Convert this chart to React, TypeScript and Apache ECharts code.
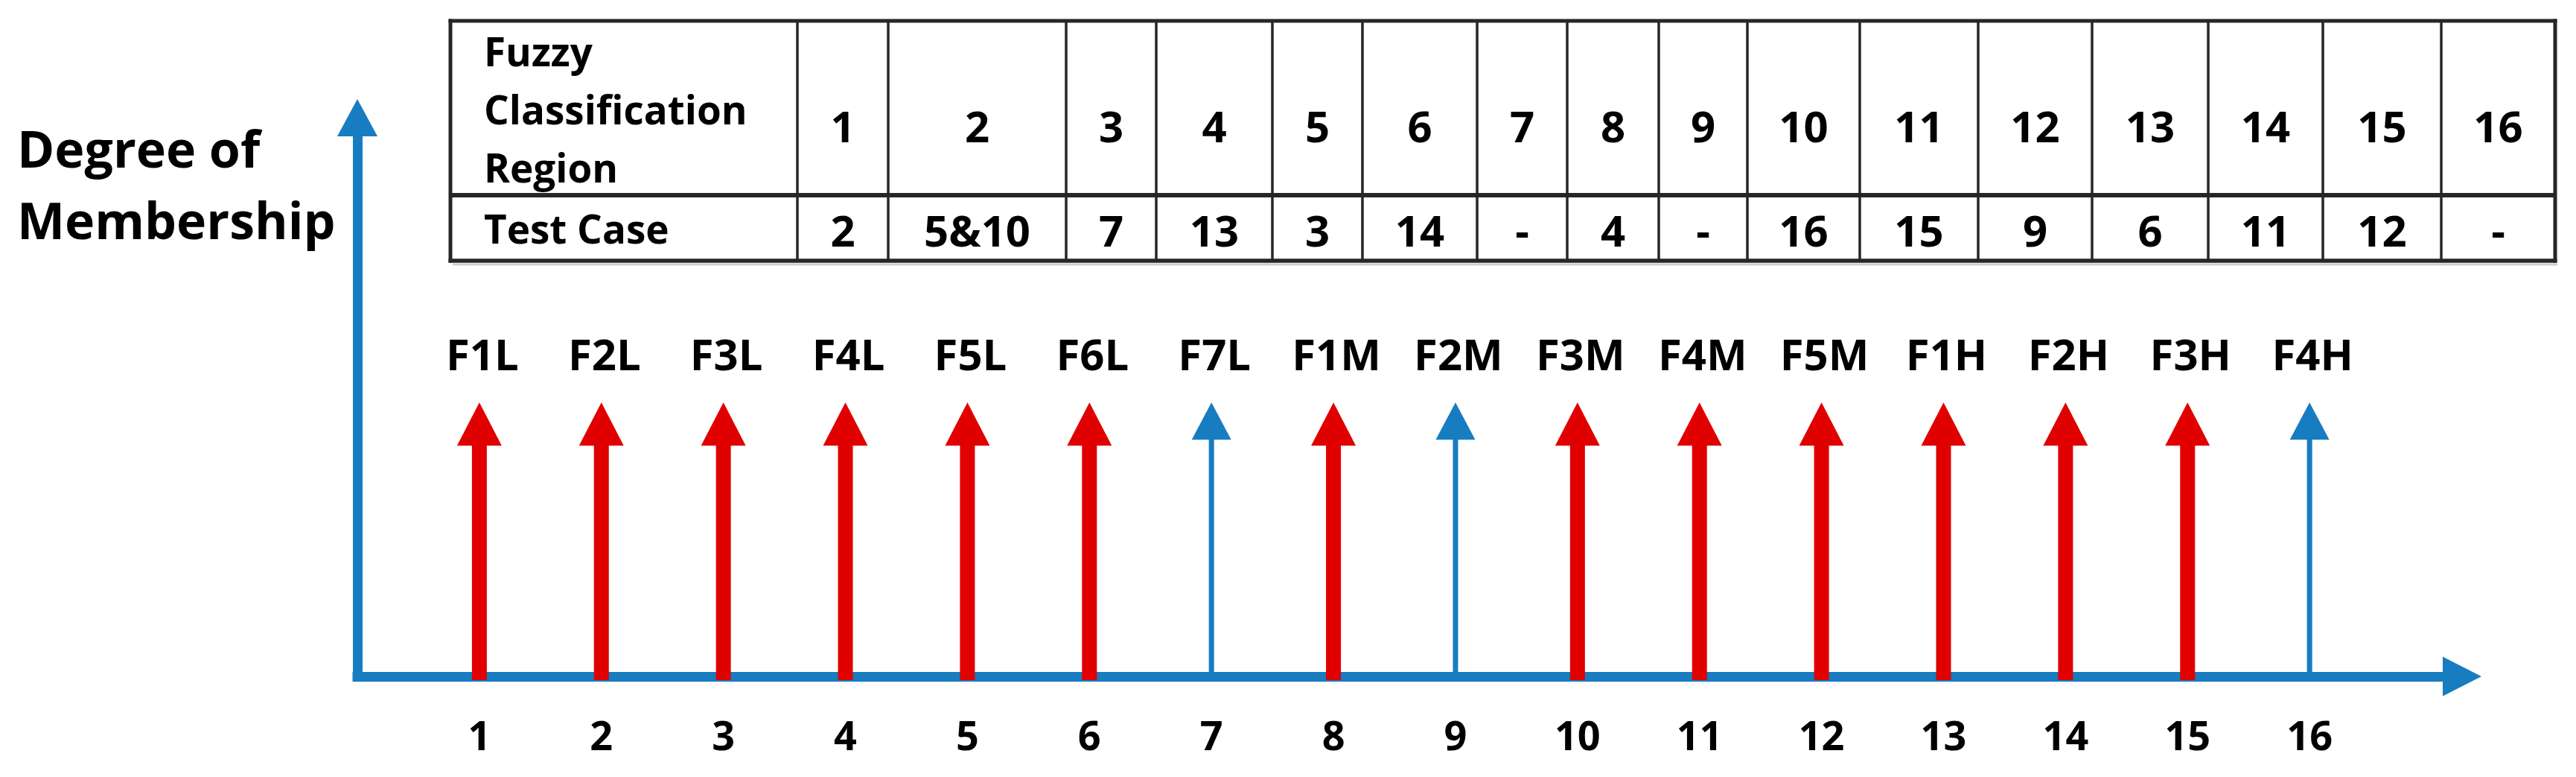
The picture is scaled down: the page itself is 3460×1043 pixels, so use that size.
import React, { useEffect, useRef } from "react";
import * as echarts from "echarts";

// ---------- data ----------
const regions: number[] = [1, 2, 3, 4, 5, 6, 7, 8, 9, 10, 11, 12, 13, 14, 15, 16];
const regionNames: string[] = [
  "F1L", "F2L", "F3L", "F4L", "F5L", "F6L", "F7L",
  "F1M", "F2M", "F3M", "F4M", "F5M",
  "F1H", "F2H", "F3H", "F4H",
];
const membership: number[] = [1, 1, 1, 1, 1, 1, 1, 1, 1, 1, 1, 1, 1, 1, 1, 1];
const testCases: string[] = ["2", "5&10", "7", "13", "3", "14", "-", "4", "-", "16", "15", "9", "6", "11", "12", "-"];
const tableRowHeaders: string[] = ["Fuzzy\nClassification\nRegion", "Test Case"];
const yAxisTitle = "Degree of\nMembership";

// ---------- layout / style ----------
const W = 3460;
const H = 1043;
const FONT = "'Open Sans', 'DejaVu Sans', sans-serif";
const RED = "#E00000";
const BLUE = "#187CC0";
const LINE = "#262626";
// table column edges (px)
const colEdges = [605, 1071, 1193, 1432, 1553, 1709, 1830, 1984, 2105, 2228, 2347, 2498, 2657, 2810, 2966, 3120, 3279, 3432];
const tableTop = 28;
const tableMid = 262;
const tableBottom = 350;

function buildTableGraphics(): any[] {
  const els: any[] = [];
  const left = colEdges[0];
  const right = colEdges[colEdges.length - 1];
  // shadow under table
  els.push({ type: "line", shape: { x1: left + 3, y1: tableBottom + 5, x2: right + 3, y2: tableBottom + 5 }, style: { stroke: "#cfcfcf", lineWidth: 3 } });
  // inner verticals
  for (let i = 1; i < colEdges.length - 1; i++) {
    els.push({ type: "line", shape: { x1: colEdges[i], y1: tableTop, x2: colEdges[i], y2: tableBottom }, style: { stroke: LINE, lineWidth: 3.5 } });
  }
  // outer borders
  els.push({ type: "line", shape: { x1: left, y1: tableTop - 2.5, x2: left, y2: tableBottom + 2.5 }, style: { stroke: LINE, lineWidth: 5 } });
  els.push({ type: "line", shape: { x1: right, y1: tableTop - 2.5, x2: right, y2: tableBottom + 2.5 }, style: { stroke: LINE, lineWidth: 5 } });
  els.push({ type: "line", shape: { x1: left - 2.5, y1: tableTop, x2: right + 2.5, y2: tableTop }, style: { stroke: LINE, lineWidth: 5 } });
  els.push({ type: "line", shape: { x1: left - 2.5, y1: tableBottom, x2: right + 2.5, y2: tableBottom }, style: { stroke: LINE, lineWidth: 5.5 } });
  els.push({ type: "line", shape: { x1: left, y1: tableMid, x2: right, y2: tableMid }, style: { stroke: LINE, lineWidth: 6 } });

  // row headers
  els.push({
    type: "text", x: 650, y: 146.5,
    style: { text: tableRowHeaders[0], fill: "#000", fontFamily: FONT, fontWeight: "bold", fontSize: 53, lineHeight: 78, align: "left", verticalAlign: "middle" },
  });
  els.push({
    type: "text", x: 650, y: 306,
    style: { text: tableRowHeaders[1], fill: "#000", fontFamily: FONT, fontWeight: "bold", fontSize: 53, align: "left", verticalAlign: "middle" },
  });
  // cells
  regions.forEach((r, i) => {
    const cx = (colEdges[i + 1] + colEdges[i + 2]) / 2;
    els.push({
      type: "text", x: cx, y: 168,
      style: { text: String(r), fill: "#000", fontFamily: FONT, fontWeight: "bold", fontSize: 58, align: "center", verticalAlign: "middle" },
    });
    els.push({
      type: "text", x: cx, y: 308,
      style: { text: testCases[i], fill: "#000", fontFamily: FONT, fontWeight: "bold", fontSize: 58, align: "center", verticalAlign: "middle" },
    });
  });
  return els;
}

function renderArrow(params: any, api: any) {
  const idx = params.dataIndex;
  const x = api.value(0);
  const v = api.value(1);
  const base = api.coord([x, 0]);
  const top = api.coord([x, v]);
  const covered = testCases[idx] !== "-";
  const color = covered ? RED : BLUE;
  const shaftW = covered ? 20 : 7;
  const headW = covered ? 60 : 53;
  const headH = covered ? 58 : 50;
  const shaftBottom = covered ? base[1] + 5 : base[1];
  const shaftTop = top[1] + headH - 1;
  return {
    type: "group",
    children: [
      { type: "rect", shape: { x: top[0] - shaftW / 2, y: shaftTop, width: shaftW, height: shaftBottom - shaftTop }, style: { fill: color } },
      {
        type: "polygon",
        shape: { points: [[top[0] - headW / 2, top[1] + headH], [top[0] + headW / 2, top[1] + headH], [top[0], top[1]]] },
        style: { fill: color },
      },
      {
        type: "text", x: top[0] + 4, y: top[1] - 66,
        style: { text: regionNames[idx], fill: "#000", fontFamily: FONT, fontWeight: "bold", fontSize: 58, align: "center", verticalAlign: "middle" },
      },
    ],
  };
}

export default function App() {
  const ref = useRef<HTMLDivElement>(null);
  useEffect(() => {
    if (!ref.current) return;
    const chart = echarts.init(ref.current, undefined, { renderer: "svg", width: W, height: H });
    const data = regions.map((r, i) => [r, membership[i]]);
    chart.setOption({
      animation: false,
      backgroundColor: "#ffffff",
      grid: { left: 480, right: 153, top: 158, bottom: 135 },
      xAxis: {
        type: "value",
        min: 0,
        max: 17.25,
        interval: 1,
        splitLine: { show: false },
        axisTick: { show: false },
        axisLine: {
          show: true,
          onZero: true,
          symbol: ["none", "triangle"],
          symbolSize: [53, 52],
          lineStyle: { color: BLUE, width: 13, cap: "square" },
        },
        axisLabel: {
          margin: 51,
          fontFamily: FONT,
          fontWeight: "bold",
          fontSize: 54,
          color: "#000",
          formatter: (val: number) => (Number.isInteger(val) && val >= 1 && val <= 16 ? String(val) : ""),
        },
      },
      yAxis: {
        type: "value",
        min: 0,
        max: 2.04,
        splitLine: { show: false },
        axisTick: { show: false },
        axisLabel: { show: false },
        axisLine: {
          show: true,
          onZero: true,
          symbol: ["none", "triangle"],
          symbolSize: [54, 50],
          lineStyle: { color: BLUE, width: 13, cap: "square" },
        },
      },
      series: [
        {
          type: "custom",
          name: "Fuzzy classification region",
          renderItem: renderArrow,
          data,
          z: 5,
        },
      ],
      graphic: [
        {
          type: "text",
          x: 23,
          y: 246,
          style: { text: yAxisTitle, fill: "#000", fontFamily: FONT, fontWeight: "bold", fontSize: 68, lineHeight: 96, align: "left", verticalAlign: "middle" },
        },
        ...buildTableGraphics(),
      ],
    });
    return () => chart.dispose();
  }, []);
  return <div ref={ref} style={{ position: "absolute", left: 0, top: 0, width: W, height: H, background: "#fff" }} />;
}
